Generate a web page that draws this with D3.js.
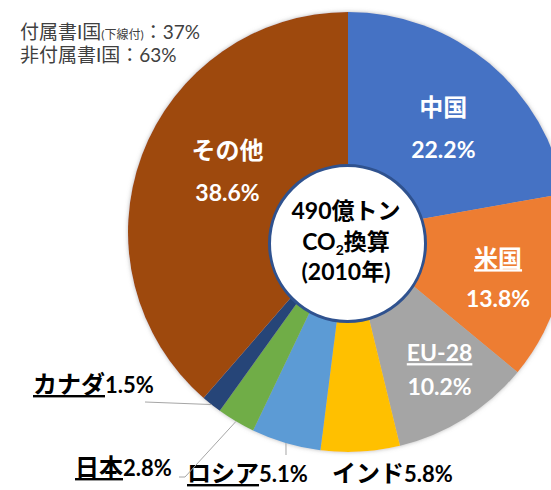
<!DOCTYPE html>
<html>
<head>
<meta charset="utf-8">
<script src="https://cdn.jsdelivr.net/npm/d3@7"></script>
<style>
body { margin: 0; background: #fff; }
text { font-family: Lato, "Noto Sans CJK JP", sans-serif; }
</style>
</head>
<body>
<script>
// data (share of global GHG emissions, 2010)
var names = ["中国", "米国", "EU-28", "インド", "ロシア", "日本", "カナダ", "その他"];
var shares = [22.2, 13.8, 10.2, 5.8, 5.1, 2.8, 1.5, 38.6];
// Annex I parties get underlined
var annexI = [false, true, true, false, true, true, true, false];
var noteLines = ["付属書I国", "非付属書I国"];
var noteValues = ["37%", "63%"];
var centerLines = ["490億トン", "CO|2|換算", "(2010年)"];

///some constants
var width = 551, height = 490;
var cx = 348, cy = 232, radius = 220;
var palette = ["#4472C4", "#ED7D31", "#A5A5A5", "#FFC000", "#5B9BD5", "#70AD47", "#264478", "#9E480E"];
var nameSize = 24, pctSize = 23;

var svg = d3.select("body").append("svg")
	.attr("width", width)
	.attr("height", height);

var defs = svg.append("defs");
var glow = defs.append("filter").attr("id", "glow")
	.attr("x", "-10%").attr("y", "-10%").attr("width", "120%").attr("height", "120%");
glow.append("feDropShadow")
	.attr("dx", 0).attr("dy", 0)
	.attr("stdDeviation", 2)
	.attr("flood-color", "#888")
	.attr("flood-opacity", 0.6);

var pie = d3.pie().sort(null).value(function (d) { return d; });
var arcs = pie(shares);
var arc = d3.arc().innerRadius(0).outerRadius(radius);
var labelArc = d3.arc().innerRadius(150).outerRadius(150);
var edgeArc = d3.arc().innerRadius(radius).outerRadius(radius);

var oPie = svg.append("g")
	.attr("transform", "translate(" + cx + "," + cy + ")");

oPie.append("g")
	.attr("filter", "url(#glow)")
	.selectAll("path")
	.data(arcs)
	.enter().append("path")
	.attr("d", arc)
	.style("fill", function (d, i) { return palette[i]; });

//labels inside the big slices: nudge from centroid, gap to % line
var inside = { 0: [-1, -1, 42], 1: [5, -3, 40], 2: [12, 2, 34], 7: [20, -20, 42] };
Object.keys(inside).forEach(function (k) {
	var i = +k, c = labelArc.centroid(arcs[i]), n = inside[k];
	var t = oPie.append("text")
		.attr("text-anchor", "middle")
		.style("fill", "#fff")
		.style("font-weight", "bold");
	t.append("tspan")
		.attr("x", c[0] + n[0]).attr("y", c[1] + n[1])
		.style("font-size", (i == 2 ? pctSize : nameSize) + "px")
		.style("text-decoration", annexI[i] ? "underline" : "none")
		.text(names[i]);
	t.append("tspan")
		.attr("x", c[0] + n[0]).attr("y", c[1] + n[1] + n[2])
		.style("font-size", pctSize + "px")
		.text(shares[i].toFixed(1) + "%");
});

//outside labels for the small slices: text start, baseline, leader bend points
var outside = {
	3: { x: 332, y: 482, leader: [] },
	4: { x: 187, y: 482, leader: [[286, 455]] },
	5: { x: 75, y: 476, leader: [[185, 477], [179, 477]] },
	6: { x: 33, y: 393, leader: [[145, 402]] }
};
Object.keys(outside).forEach(function (k) {
	var i = +k, o = outside[k];
	if (o.leader.length) {
		var e = edgeArc.centroid(arcs[i]);
		var pts = [[e[0] + cx, e[1] + cy]].concat(o.leader);
		svg.append("path")
			.attr("d", d3.line()(pts))
			.style("fill", "none")
			.style("stroke", "#A6A6A6")
			.style("stroke-width", 1);
	}
	var t = svg.append("text")
		.attr("x", o.x).attr("y", o.y)
		.style("fill", "#000")
		.style("font-weight", "bold");
	t.append("tspan")
		.style("font-size", nameSize + "px")
		.style("text-decoration", annexI[i] ? "underline" : "none")
		.text(names[i]);
	t.append("tspan")
		.style("font-size", (pctSize - 1) + "px")
		.text(shares[i].toFixed(1) + "%");
});

//center badge
svg.append("circle")
	.attr("cx", 347.5).attr("cy", 243.5).attr("r", 78)
	.style("fill", "#fff")
	.style("stroke", "#2F528F")
	.style("stroke-width", 3);

var ct = svg.append("text")
	.attr("text-anchor", "middle")
	.style("font-weight", "bold")
	.style("font-size", "23px")
	.style("fill", "#000");
centerLines.forEach(function (line, j) {
	var ts = ct.append("tspan").attr("x", 346).attr("y", 219 + j * 30.5);
	var parts = line.split("|");
	if (parts.length == 3) {
		ts.text(parts[0]);
		ct.append("tspan").attr("dy", 5).style("font-size", "14px").text(parts[1]);
		ct.append("tspan").attr("dy", -5).text(parts[2]);
	} else {
		ts.text(line);
	}
});

//note top-left
noteLines.forEach(function (line, j) {
	var t = svg.append("text")
		.attr("x", 20).attr("y", 39 + j * 23)
		.style("fill", "#404040")
		.style("font-size", "19px");
	t.append("tspan").text(line);
	if (j == 0) t.append("tspan").style("font-size", "12px").text("(下線付)");
	t.append("tspan").text("：" + noteValues[j]);
});
</script>
</body>
</html>
